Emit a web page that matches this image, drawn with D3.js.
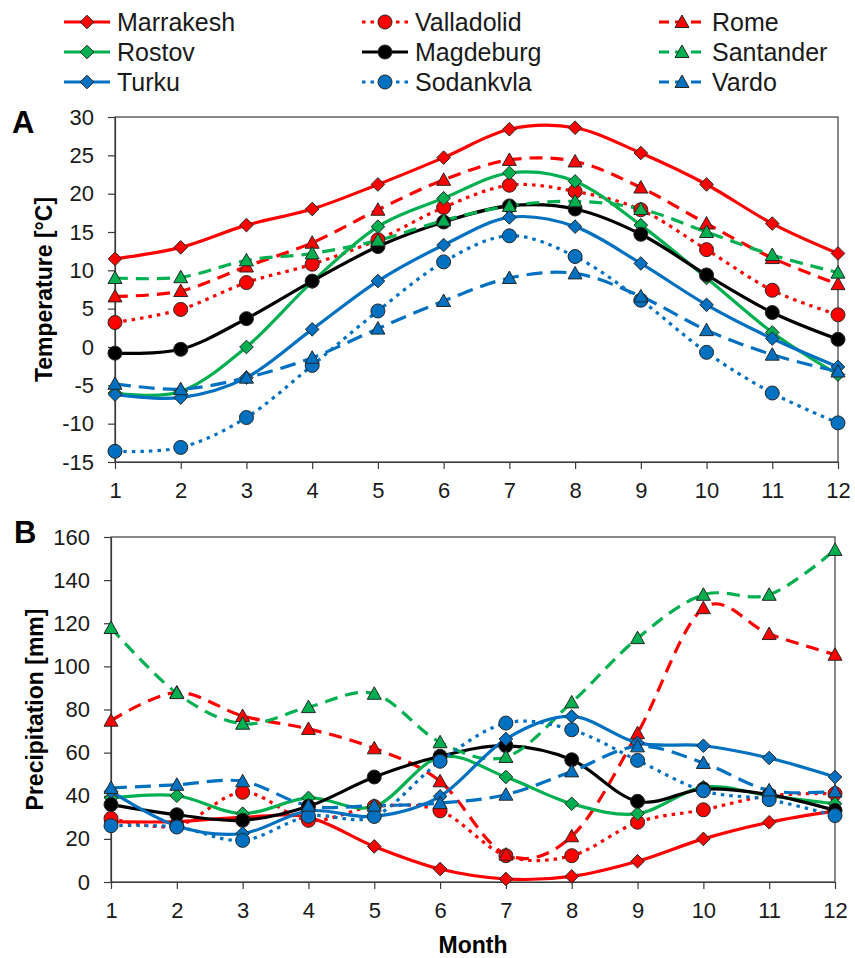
<!DOCTYPE html>
<html>
<head>
<meta charset="utf-8">
<script src="https://cdn.jsdelivr.net/npm/d3@7"></script>
<style>
  html, body { margin: 0; padding: 0; background: #fff; }
  svg { display: block; font-family: "Liberation Sans", Arial, sans-serif; }
</style>
</head>
<body>
<svg id="chart" width="855" height="958"></svg>
<script>
// ---------------- DATA ----------------
const months = [1, 2, 3, 4, 5, 6, 7, 8, 9, 10, 11, 12];
const cities = ["Marrakesh", "Valladolid", "Rome", "Rostov", "Magdeburg", "Santander", "Turku", "Sodankvla", "Vardo"];

// Temperature [°C]
const tMarrakesh  = [11.5, 13.0, 15.9, 18.0, 21.2, 24.7, 28.4, 28.6, 25.3, 21.2, 16.1, 12.2];
const tValladolid = [3.2, 4.9, 8.4, 10.8, 14.0, 18.2, 21.1, 20.3, 17.9, 12.7, 7.4, 4.2];
const tRome       = [6.6, 7.3, 10.5, 13.6, 17.9, 21.8, 24.4, 24.2, 20.8, 16.1, 11.6, 8.2];
const tRostov     = [-6.0, -5.8, 0.0, 8.5, 15.7, 19.4, 22.7, 21.6, 15.9, 9.0, 1.9, -3.6];
const tMagdeburg  = [-0.8, -0.3, 3.7, 8.6, 13.1, 16.3, 18.4, 18.0, 14.7, 9.4, 4.5, 1.0];
const tSantander  = [9.0, 9.1, 11.3, 12.2, 13.9, 16.5, 18.4, 19.0, 18.0, 15.0, 12.0, 9.7];
const tTurku      = [-6.2, -6.6, -4.0, 2.3, 8.6, 13.3, 16.9, 15.7, 10.9, 5.5, 1.1, -2.6];
const tSodankvla  = [-13.6, -13.1, -9.2, -2.4, 4.7, 11.1, 14.5, 11.8, 6.1, -0.7, -6.0, -9.9];
const tVardo      = [-4.8, -5.5, -4.0, -1.4, 2.4, 6.0, 9.0, 9.6, 6.6, 2.2, -1.0, -3.2];

// Precipitation [mm]
const pMarrakesh  = [28, 28, 30, 30, 16.5, 6, 1.4, 2.6, 9.6, 20, 27.7, 33];
const pValladolid = [29.5, 26, 41.6, 28.6, 35, 33, 12.2, 12.2, 27.7, 33.5, 40, 41];
const pRome       = [74.8, 87.9, 77, 71, 62, 46.7, 12.7, 21.2, 69, 127, 115, 105.4];
const pRostov     = [39, 40, 31.7, 39, 35, 58, 48.7, 36.3, 31.7, 44, 40, 36.3];
const pMagdeburg  = [35.9, 31.2, 28.6, 35.1, 48.7, 58.3, 63.2, 56.7, 37.4, 43.1, 40.5, 33.2];
const pSantander  = [117.8, 87.6, 73.4, 81.1, 87.3, 64.8, 58, 83.3, 113.1, 133.2, 133.2, 154];
const pTurku      = [42, 26, 22.5, 33, 30.4, 39.7, 66.3, 76.8, 64.5, 63.2, 57.5, 48.7];
const pSodankvla  = [26.1, 25.5, 19.3, 30.5, 30.4, 56, 73.7, 70.6, 56.4, 42.3, 38.2, 30.8];
const pVardo      = [43.6, 45.1, 46.7, 35.4, 35.4, 36.6, 40.5, 51.3, 62.9, 55.2, 42.5, 42];

const tempTicks = [-15, -10, -5, 0, 5, 10, 15, 20, 25, 30];
const precTicks = [0, 20, 40, 60, 80, 100, 120, 140, 160];

const tempData = [tMarrakesh, tValladolid, tRome, tRostov, tMagdeburg, tSantander, tTurku, tSodankvla, tVardo];
const precData = [pMarrakesh, pValladolid, pRome, pRostov, pMagdeburg, pSantander, pTurku, pSodankvla, pVardo];

// ---------------- STYLES ----------------
const RED = "#FF0000", GREEN = "#00B050", BLUE = "#0070C0", BLACK = "#000000";
const styles = {
  Marrakesh:  { color: RED,   dash: null,    marker: "diamond" },
  Valladolid: { color: RED,   dash: "3.5,5", marker: "circle" },
  Rome:       { color: RED,   dash: "13,8",  marker: "triangle" },
  Rostov:     { color: GREEN, dash: null,    marker: "diamond" },
  Magdeburg:  { color: BLACK, dash: null,    marker: "circle" },
  Santander:  { color: GREEN, dash: "13,8",  marker: "triangle" },
  Turku:      { color: BLUE,  dash: null,    marker: "diamond" },
  Sodankvla:  { color: BLUE,  dash: "3.5,5", marker: "circle" },
  Vardo:      { color: BLUE,  dash: "16,8",  marker: "triangle" }
};

function markerPath(type) {
  if (type === "diamond") return "M0,-6.8L6.8,0L0,6.8L-6.8,0Z";
  return "M0,-7L7,5.5L-7,5.5Z";
}

const svg = d3.select("#chart");
const FONT = "Liberation Sans, Arial, sans-serif";

function drawMarker(g, type, x, y, color) {
  if (type === "circle") {
    g.append("circle").attr("cx", x).attr("cy", y).attr("r", 7)
      .attr("fill", color).attr("stroke", "#262626").attr("stroke-width", 1);
  } else {
    g.append("path").attr("d", markerPath(type))
      .attr("transform", `translate(${x},${y})`)
      .attr("fill", color).attr("stroke", "#262626").attr("stroke-width", 1);
  }
}

function panel(cfg) {
  const x = d3.scaleLinear().domain([1, 12]).range([cfg.left, cfg.right]);
  const y = d3.scaleLinear().domain(cfg.domain).range([cfg.bottom, cfg.top]);
  const g = svg.append("g");

  // frame
  g.append("rect").attr("x", cfg.left).attr("y", cfg.top)
    .attr("width", cfg.right - cfg.left).attr("height", cfg.bottom - cfg.top)
    .attr("fill", "none").attr("stroke", "#3a3a3a").attr("stroke-width", 1.2);

  const yAxis = d3.axisLeft(y).tickValues(cfg.ticks).tickSize(7).tickSizeOuter(0).tickPadding(14)
    .tickFormat(d => String(d));
  const xAxis = d3.axisBottom(x).tickValues(months).tickSize(7).tickSizeOuter(0).tickPadding(13)
    .tickFormat(d => String(d));

  const ya = g.append("g").attr("transform", `translate(${cfg.left},0)`).call(yAxis);
  const xa = g.append("g").attr("transform", `translate(0,${cfg.bottom})`).call(xAxis);
  [ya, xa].forEach(a => {
    a.select(".domain").attr("stroke", "#3a3a3a").attr("stroke-width", 1.2);
    a.selectAll(".tick line").attr("stroke", "#3a3a3a").attr("stroke-width", 1.2);
    a.selectAll(".tick text").attr("font-family", FONT).attr("font-size", 22).attr("fill", "#1a1a1a");
  });

  const line = d3.line().x((d, i) => x(months[i])).y(d => y(d)).curve(d3.curveCatmullRom.alpha(0));

  const linesG = g.append("g");
  const marksG = g.append("g");
  cities.forEach((c, k) => {
    const st = styles[c];
    linesG.append("path").attr("d", line(cfg.data[k])).attr("fill", "none")
      .attr("stroke", st.color).attr("stroke-width", 3.2)
      .attr("stroke-dasharray", st.dash);
  });
  cities.forEach((c, k) => {
    const st = styles[c];
    cfg.data[k].forEach((v, i) => drawMarker(marksG, st.marker, x(months[i]), y(v), st.color));
  });

  svg.append("text").attr("x", cfg.letterX).attr("y", cfg.letterY)
    .attr("font-family", FONT).attr("font-weight", "bold").attr("font-size", 31)
    .attr("fill", "#000").text(cfg.letter);

  svg.append("text")
    .attr("transform", `translate(${cfg.titleX},${(cfg.top + cfg.bottom) / 2}) rotate(-90)`)
    .attr("text-anchor", "middle").attr("font-family", FONT).attr("font-weight", "bold")
    .attr("font-size", 23).attr("fill", "#000").text(cfg.title);
}

panel({ left: 115, right: 838, top: 117, bottom: 462, domain: [-15, 30], ticks: tempTicks,
        data: tempData, letter: "A", letterX: 12, letterY: 133, title: "Temperature [°C]", titleX: 52 });
panel({ left: 111, right: 835, top: 537, bottom: 882, domain: [0, 160], ticks: precTicks,
        data: precData, letter: "B", letterX: 14, letterY: 543, title: "Precipitation [mm]", titleX: 43 });

svg.append("text").attr("x", 473).attr("y", 953).attr("text-anchor", "middle")
  .attr("font-family", FONT).attr("font-weight", "bold").attr("font-size", 23)
  .attr("fill", "#000").text("Month");

// ---------------- LEGEND ----------------
const legCols = [64, 362, 659];
const legRows = [22, 52, 82];
const leg = svg.append("g");
cities.forEach((c, k) => {
  const st = styles[c];
  const lx = legCols[k % 3], ly = legRows[Math.floor(k / 3)];
  leg.append("line").attr("x1", lx).attr("x2", lx + 46).attr("y1", ly).attr("y2", ly)
    .attr("stroke", st.color).attr("stroke-width", 3.2)
    .attr("stroke-dasharray", st.dash ? (st.marker === "circle" ? "3.5,5" : "10,6") : null);
  drawMarker(leg, st.marker, lx + 23, ly, st.color);
  leg.append("text").attr("x", lx + 53).attr("y", ly + 9)
    .attr("font-family", FONT).attr("font-size", 25).attr("fill", "#1a1a1a").text(c);
});
</script>
</body>
</html>
